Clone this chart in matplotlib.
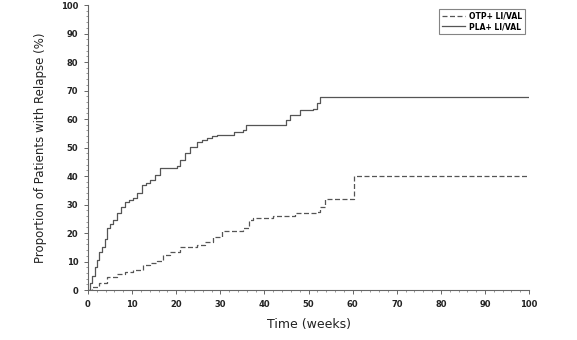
import matplotlib
matplotlib.use("Agg")
import matplotlib.pyplot as plt
from matplotlib.ticker import MultipleLocator

# Kaplan-Meier style relapse curves
pla_weeks = [0, 0.5, 1.0, 1.5, 2.0, 2.6, 3.2, 3.8, 4.2, 5.0, 5.7, 6.5, 7.4, 8.4, 9.4, 10.3, 11.2, 12.2, 13.2, 14.0, 15.2, 16.3,
             20.1, 20.9, 22.0, 23.1, 24.6, 25.8, 26.9, 28.0, 29.2, 32.2, 33.0, 35.2, 35.9, 44.3, 45.0, 45.8, 48.1, 51.0, 52.0, 52.6, 100]
pla_pct = [0, 2.5, 5.0, 8.0, 10.5, 13.5, 15.0, 18.0, 21.6, 23.0, 24.5, 27.0, 29.0, 31.0, 31.5, 32.2, 34.0, 36.8, 37.5, 38.6, 40.5, 43.0,
           43.5, 45.6, 48.0, 50.3, 52.0, 52.8, 53.2, 54.0, 54.4, 54.4, 55.5, 56.1, 57.9, 57.9, 59.5, 61.4, 63.2, 63.5, 65.5, 67.8, 67.8]

otp_weeks = [0, 1.0, 2.5, 4.2, 6.5, 8.5, 10.3, 12.5, 14.0, 15.6, 17.1, 18.5, 20.9, 24.6, 26.5, 28.4, 30.3, 35.2, 36.4, 37.5,
             42.0, 46.9, 51.9, 52.6, 53.7, 59.4, 60.2, 60.2, 100]
otp_pct = [0, 1.2, 2.5, 4.4, 5.5, 6.3, 7.0, 8.8, 9.5, 10.3, 12.3, 13.5, 15.0, 15.8, 17.0, 18.7, 20.7, 21.6, 24.5, 25.2,
           26.0, 27.1, 27.5, 29.2, 31.8, 31.8, 33.9, 40.0, 40.0]

series_labels = ["OTP+ LI/VAL", "PLA+ LI/VAL"]
x_ticks = list(range(0, 101, 10))
y_ticks = list(range(0, 101, 10))

fig = plt.figure(figsize=(5.77, 3.4), dpi=100)
ax = fig.add_axes([0.1525, 0.147, 0.7645, 0.838])

line_col = "#555555"
ax.plot(otp_weeks, otp_pct, drawstyle="steps-post", color=line_col, lw=0.9,
        linestyle=(0, (4, 2)), label=series_labels[0])
ax.plot(pla_weeks, pla_pct, drawstyle="steps-post", color=line_col, lw=0.9,
        label=series_labels[1])

ax.set_xlim(0, 100)
ax.set_ylim(0, 100)
ax.set_xticks(x_ticks)
ax.set_yticks(y_ticks)
ax.xaxis.set_minor_locator(MultipleLocator(2))
ax.yaxis.set_minor_locator(MultipleLocator(2))
ax.tick_params(axis="both", which="major", length=3, width=0.7, color="#666666",
               labelsize=6, pad=4)
ax.tick_params(axis="both", which="minor", length=1.5, width=0.6, color="#888888")
for lab in ax.get_xticklabels() + ax.get_yticklabels():
    lab.set_fontweight("bold")
    lab.set_color("#222222")

for s in ["top", "right"]:
    ax.spines[s].set_visible(False)
for s in ["left", "bottom"]:
    ax.spines[s].set_color("#666666")
    ax.spines[s].set_linewidth(0.8)

ax.set_xlabel("Time (weeks)", fontsize=9, color="#222222", labelpad=7)
ax.set_ylabel("Proportion of Patients with Relapse (%)", fontsize=8.5, color="#222222", labelpad=10)

leg = ax.legend(loc="upper right", bbox_to_anchor=(1.0, 1.0), fontsize=5.5, frameon=True,
                fancybox=False, handlelength=3, borderpad=0.4, labelspacing=0.15,
                handletextpad=0.5, prop={"weight": "bold", "size": 5.5})
leg.get_frame().set_edgecolor("#666666")
leg.get_frame().set_linewidth(0.8)

fig.savefig("out.png", dpi=100)
